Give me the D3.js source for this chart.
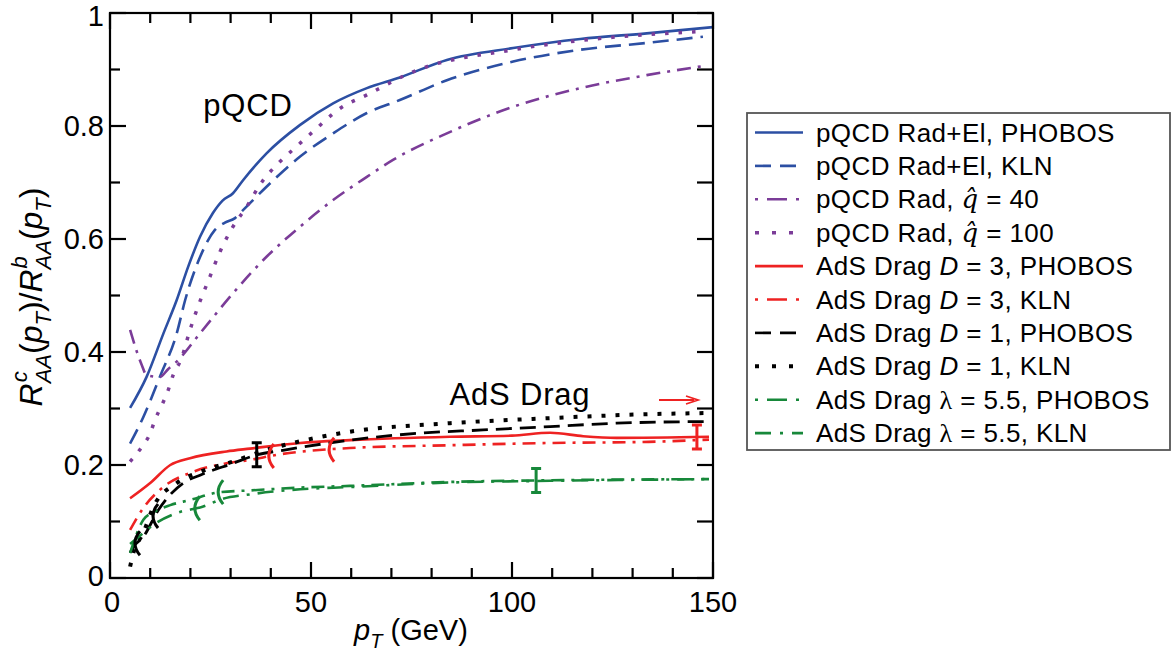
<!DOCTYPE html>
<html><head><meta charset="utf-8">
<script src="https://cdn.jsdelivr.net/npm/d3@7"></script>
<style>
body{margin:0;background:#fff;}
text{font-family:"Liberation Sans",Arial,sans-serif;fill:#000;}
</style></head>
<body><svg id="c" width="1174" height="654"></svg>
<script>
// ---------- data ----------
const blueSolidX = [5, 9.1, 13.3, 16.6, 19.5, 22.4, 25.6, 28, 30.6, 33.1, 39, 47.3, 55.5, 63.9, 72.1, 83.8, 100.3, 117, 133.5, 150];
const blueSolidY = [0.301, 0.356, 0.433, 0.492, 0.552, 0.604, 0.646, 0.668, 0.681, 0.704, 0.752, 0.802, 0.84, 0.867, 0.886, 0.917, 0.938, 0.954, 0.964, 0.975];
const blueDashX = [5, 8.3, 12.4, 16.6, 18.7, 22.4, 26.1, 28.6, 31.1, 33.1, 39, 47.3, 55.5, 63.9, 72.1, 83.8, 100.3, 117, 133.5, 147.5];
const blueDashY = [0.238, 0.285, 0.356, 0.433, 0.492, 0.568, 0.616, 0.629, 0.637, 0.651, 0.693, 0.746, 0.787, 0.823, 0.846, 0.881, 0.914, 0.935, 0.947, 0.958];
const purpDotX = [5, 7.9, 10, 11.2, 12.9, 14.5, 15.7, 17.8, 19.9, 22.4, 24.4, 27.4, 30.6, 34, 37.3, 42.3, 45.5, 50.5, 57.2, 63.9, 75.4, 100.3, 125, 146];
const purpDotY = [0.206, 0.232, 0.256, 0.28, 0.306, 0.333, 0.359, 0.389, 0.439, 0.49, 0.525, 0.578, 0.622, 0.657, 0.696, 0.737, 0.758, 0.79, 0.831, 0.855, 0.896, 0.935, 0.957, 0.967];
const purpDashDotX = [5, 7.9, 9.1, 12.4, 14.5, 16.6, 22.4, 30.6, 39, 47.3, 55.5, 63.9, 70.4, 83.8, 100.3, 117, 133.5, 147.5];
const purpDashDotY = [0.439, 0.377, 0.359, 0.356, 0.37, 0.383, 0.433, 0.504, 0.569, 0.622, 0.669, 0.71, 0.74, 0.787, 0.834, 0.867, 0.89, 0.906];
const redSolidX = [5, 10, 15, 19.9, 29, 34.8, 47.3, 59.7, 84.6, 100, 109.5, 117.7, 126, 149];
const redSolidY = [0.141, 0.168, 0.2, 0.212, 0.224, 0.229, 0.239, 0.244, 0.25, 0.252, 0.257, 0.251, 0.248, 0.25];
const redDashDotX = [5, 8.3, 12.4, 20.7, 29, 34.8, 41.5, 59.7, 84.6, 109.5, 134, 149];
const redDashDotY = [0.085, 0.124, 0.156, 0.188, 0.203, 0.209, 0.218, 0.23, 0.235, 0.239, 0.241, 0.245];
const blackDashX = [5, 5.8, 8.3, 12, 18.2, 22.4, 30.6, 36.5, 43, 59.7, 76.3, 92.8, 109.5, 126, 149];
const blackDashY = [0.045, 0.055, 0.073, 0.12, 0.168, 0.182, 0.203, 0.218, 0.226, 0.244, 0.256, 0.262, 0.268, 0.274, 0.277];
const blackDotX = [5, 5.8, 8.3, 10.8, 16.6, 22.4, 30.6, 39, 45.5, 59.7, 84.6, 109.5, 134, 149];
const blackDotY = [0.02, 0.044, 0.08, 0.126, 0.168, 0.188, 0.206, 0.227, 0.239, 0.259, 0.274, 0.283, 0.29, 0.292];
const greenPhobosX = [5, 8.3, 11, 15, 19.9, 27.4, 34.8, 47.3, 59.7, 84.6, 109.5, 149];
const greenPhobosY = [0.044, 0.103, 0.117, 0.129, 0.138, 0.152, 0.155, 0.16, 0.163, 0.17, 0.173, 0.175];
const greenKlnX = [5, 8.3, 11, 16.6, 23, 28, 34.8, 47.3, 59.7, 84.6, 109.5, 149];
const greenKlnY = [0.06, 0.08, 0.095, 0.115, 0.126, 0.14, 0.148, 0.157, 0.161, 0.169, 0.172, 0.175];

const xMajorTicks = [0, 50, 100, 150];
const xMinorTicks = [10, 20, 30, 40, 60, 70, 80, 90, 110, 120, 130, 140];
const yMajorTicks = [0, 0.2, 0.4, 0.6, 0.8, 1];
const yMinorTicks = [0.1, 0.3, 0.5, 0.7, 0.9];
const yTickLabels = ["0", "0.2", "0.4", "0.6", "0.8", "1"];

// markers: series index, pT, kind
const markerSeries = [6, 4, 8, 5, 5, 6, 6, 9, 8];
const markerPt = [36.5, 146, 106, 40, 55, 6.7, 11.2, 21.6, 27.4];
const markerKind = ["I", "I", "I", "(", "(", "(", "(", "(", "("];

// ---------- styles ----------
const blue = "#2c4fa3", purple = "#7b3c98", red = "#ee2222", green = "#17883a", black = "#000";
const series = [
  {x: blueSolidX, y: blueSolidY, c: blue, dash: null, w: 2.6},
  {x: blueDashX, y: blueDashY, c: blue, dash: "16,8", w: 2.6},
  {x: purpDashDotX, y: purpDashDotY, c: purple, dash: "14,7,3,7", w: 2.6},
  {x: purpDotX, y: purpDotY, c: purple, dash: "3.5,10", w: 3.5},
  {x: redSolidX, y: redSolidY, c: red, dash: null, w: 2.6},
  {x: redDashDotX, y: redDashDotY, c: red, dash: "13,7,3,7", w: 2.6},
  {x: blackDashX, y: blackDashY, c: black, dash: "16,8", w: 2.8},
  {x: blackDotX, y: blackDotY, c: black, dash: "4,10", w: 4},
  {x: greenPhobosX, y: greenPhobosY, c: green, dash: "13,7,3,7", w: 2.6},
  {x: greenKlnX, y: greenKlnY, c: green, dash: "16,8,3,8", w: 2.6}
];
const legendItems = [
  [{t:"pQCD Rad+El, PHOBOS"}],
  [{t:"pQCD Rad+El, KLN"}],
  [{t:"pQCD Rad, "},{t:"q\u0302",q:1},{t:" = 40"}],
  [{t:"pQCD Rad, "},{t:"q\u0302",q:1},{t:" = 100"}],
  [{t:"AdS Drag "},{t:"D",i:1},{t:" = 3, PHOBOS"}],
  [{t:"AdS Drag "},{t:"D",i:1},{t:" = 3, KLN"}],
  [{t:"AdS Drag "},{t:"D",i:1},{t:" = 1, PHOBOS"}],
  [{t:"AdS Drag "},{t:"D",i:1},{t:" = 1, KLN"}],
  [{t:"AdS Drag "},{t:"\u03bb",g:1},{t:" = 5.5, PHOBOS"}],
  [{t:"AdS Drag "},{t:"\u03bb",g:1},{t:" = 5.5, KLN"}]
];
const legendDash = [null, "16,9", "3,9,20,9,3,20", "4,13", null, "3,9,20,9,3,20", "16,9", "4,13", "3,9,20,9,3,20", "16,9,3,9"];

// ---------- chart ----------
const svg = d3.select("#c");
const L = 110, R = 713, T = 13, B = 578;
const x = d3.scaleLinear().domain([0, 150]).range([L, R]);
const y = d3.scaleLinear().domain([0, 1]).range([B, T]);

svg.append("clipPath").attr("id","cp").append("rect")
  .attr("x", L).attr("y", T).attr("width", R-L).attr("height", B-T);

const line = d3.line().x(d => x(d[0])).y(d => y(d[1])).curve(d3.curveMonotoneX);
const gl = svg.append("g").attr("clip-path","url(#cp)");
series.forEach(s => {
  const pts = s.x.map((v,i) => [v, s.y[i]]);
  gl.append("path").attr("d", line(pts)).attr("fill","none")
    .attr("stroke", s.c).attr("stroke-width", s.w)
    .attr("stroke-dasharray", s.dash).attr("stroke-linejoin","round");
});

// markers
markerSeries.forEach((si, k) => {
  const s = series[si];
  const v = d3.scaleLinear().domain(s.x).range(s.y)(markerPt[k]);
  const px = x(markerPt[k]), py = y(v);
  const g = svg.append("g").attr("stroke", s.c).attr("stroke-width", 3).attr("fill","none");
  if (markerKind[k] === "I") {
    g.append("path").attr("d", `M${px},${py-12}V${py+12}M${px-5},${py-12}H${px+5}M${px-5},${py+12}H${px+5}`);
  } else {
    g.append("path").attr("d", `M${px+3},${py-12}Q${px-7},${py} ${px+3},${py+12}`);
  }
});

// axes frame
const ax = svg.append("g").attr("stroke","#000").attr("stroke-width",2.2);
ax.append("rect").attr("x",L).attr("y",T).attr("width",R-L).attr("height",B-T).attr("fill","none");
xMajorTicks.forEach(v => {
  ax.append("line").attr("x1",x(v)).attr("x2",x(v)).attr("y1",B).attr("y2",B-16);
  ax.append("line").attr("x1",x(v)).attr("x2",x(v)).attr("y1",T).attr("y2",T+16);
});
xMinorTicks.forEach(v => {
  ax.append("line").attr("x1",x(v)).attr("x2",x(v)).attr("y1",B).attr("y2",B-10);
  ax.append("line").attr("x1",x(v)).attr("x2",x(v)).attr("y1",T).attr("y2",T+10);
});
yMajorTicks.forEach(v => {
  ax.append("line").attr("y1",y(v)).attr("y2",y(v)).attr("x1",L).attr("x2",L+16);
  ax.append("line").attr("y1",y(v)).attr("y2",y(v)).attr("x1",R).attr("x2",R-16);
});
yMinorTicks.forEach(v => {
  ax.append("line").attr("y1",y(v)).attr("y2",y(v)).attr("x1",L).attr("x2",L+10);
  ax.append("line").attr("y1",y(v)).attr("y2",y(v)).attr("x1",R).attr("x2",R-16);
});

// tick labels
xMajorTicks.forEach(v => {
  svg.append("text").attr("x", x(v)+ (v===0?2:0)).attr("y", 612).attr("text-anchor","middle")
    .attr("font-size",29).text(v);
});
yMajorTicks.forEach((v,i) => {
  const off = v === 0 ? 8 : (v === 1 ? 13 : 10);
  svg.append("text").attr("x", 104).attr("y", y(v)+off).attr("text-anchor","end")
    .attr("font-size",29).text(yTickLabels[i]);
});

// x title
const xt = svg.append("text").attr("x", 411).attr("y", 640).attr("text-anchor","middle").attr("font-size",29);
xt.append("tspan").attr("font-style","italic").text("p");
xt.append("tspan").attr("font-style","italic").attr("font-size",20).attr("dy",8).text("T");
xt.append("tspan").attr("dy",-8).text(" (GeV)");

// y title (rotated), built piecewise
const yt = svg.append("g").attr("transform","translate(42,297) rotate(-90)");
const pieces = [
  {t:"R", i:1, s:32, dy:0},
  {t:"c", i:1, s:22, dy:-15, stack:true},
  {t:"AA", i:1, s:22, dy:9},
  {t:"(", s:32, dy:0},
  {t:"p", i:1, s:32, dy:0},
  {t:"T", i:1, s:22, dy:9},
  {t:")/", s:32, dy:0},
  {t:"R", i:1, s:32, dy:0},
  {t:"b", i:1, s:22, dy:-15, stack:true},
  {t:"AA", i:1, s:22, dy:9},
  {t:"(", s:32, dy:0},
  {t:"p", i:1, s:32, dy:0},
  {t:"T", i:1, s:22, dy:9},
  {t:")", s:32, dy:0}
];
let cx = 0; const nodes = [];
pieces.forEach(p => {
  const n = yt.append("text").attr("x", cx + (p.stack ? 1 : 0)).attr("y", p.dy).attr("font-size", p.s)
    .attr("font-style", p.i ? "italic" : "normal").text(p.t);
  const w = n.node().getComputedTextLength();
  if (!p.stack) cx += w;
  nodes.push(n);
});
nodes.forEach(n => n.attr("x", +n.attr("x") - cx/2));

// annotations
svg.append("text").attr("x", 248).attr("y", 116).attr("text-anchor","middle").attr("font-size",31).attr("letter-spacing",0.8).text("pQCD");
svg.append("text").attr("x", 520).attr("y", 405).attr("text-anchor","middle").attr("font-size",31).attr("letter-spacing",0.8).text("AdS Drag");
svg.append("line").attr("x1",659).attr("x2",694).attr("y1",400).attr("y2",400).attr("stroke",red).attr("stroke-width",1.8);
svg.append("path").attr("d","M686,396 L698,400 L686,404").attr("fill","none").attr("stroke",red).attr("stroke-width",1.8);

// legend
const lg = svg.append("g");
lg.append("rect").attr("x",747).attr("y",113).attr("width",423).attr("height",337)
  .attr("fill","#fff").attr("stroke","#555").attr("stroke-width",1.8);
legendItems.forEach((it, i) => {
  const cy = 132.5 + i*33.4;
  const s = series[i];
  lg.append("line").attr("x1",755).attr("x2",803).attr("y1",cy).attr("y2",cy)
    .attr("stroke", s.c).attr("stroke-width", s.w === 4 ? 4 : (s.w > 3 ? 3.5 : 2.6))
    .attr("stroke-dasharray", legendDash[i]);
  const t = lg.append("text").attr("x",816).attr("y",cy+9).attr("font-size",26).attr("letter-spacing",0.4);
  it.forEach(p => {
    const ts = t.append("tspan").text(p.t);
    if (p.i) ts.attr("font-style","italic");
    if (p.q) ts.attr("font-style","italic").attr("font-family","DejaVu Serif").attr("font-size",26);
    if (p.g) ts.attr("font-family","Liberation Serif");
  });
});
</script></body></html>
